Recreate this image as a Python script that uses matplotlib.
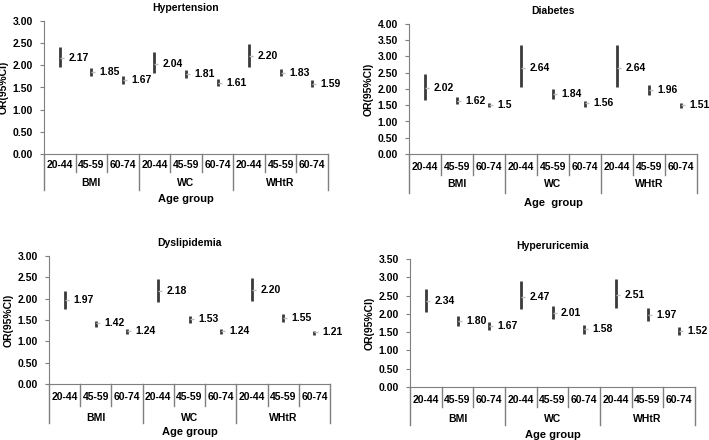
import matplotlib
matplotlib.use("Agg")
import matplotlib.pyplot as plt

plt.rcParams['font.family'] = ['Liberation Sans', 'DejaVu Sans']
plt.rcParams['font.weight'] = 'bold'

ages = ['20-44', '45-59', '60-74']
groups = ['BMI', 'WC', 'WHtR']

titles = ['Hypertension', 'Diabetes', 'Dyslipidemia', 'Hyperuricemia']
xlabels = ['Age group', 'Age  group', 'Age group', 'Age group']
ymax = [3.0, 4.0, 3.0, 3.5]

or_labels = [
    ['2.17', '1.85', '1.67', '2.04', '1.81', '1.61', '2.20', '1.83', '1.59'],
    ['2.02', '1.62', '1.5', '2.64', '1.84', '1.56', '2.64', '1.96', '1.51'],
    ['1.97', '1.42', '1.24', '2.18', '1.53', '1.24', '2.20', '1.55', '1.21'],
    ['2.34', '1.80', '1.67', '2.47', '2.01', '1.58', '2.51', '1.97', '1.52'],
]
ci_low = [
    [1.97, 1.76, 1.59, 1.83, 1.71, 1.53, 1.97, 1.75, 1.51],
    [1.67, 1.53, 1.46, 2.06, 1.69, 1.46, 2.06, 1.82, 1.43],
    [1.75, 1.34, 1.17, 1.92, 1.42, 1.17, 1.94, 1.46, 1.15],
    [2.06, 1.66, 1.55, 2.12, 1.85, 1.46, 2.15, 1.80, 1.42],
]
ci_high = [
    [2.42, 1.93, 1.76, 2.31, 1.90, 1.69, 2.47, 1.92, 1.67],
    [2.47, 1.74, 1.58, 3.36, 1.99, 1.63, 3.36, 2.13, 1.58],
    [2.19, 1.48, 1.29, 2.45, 1.60, 1.29, 2.49, 1.64, 1.25],
    [2.68, 1.95, 1.78, 2.90, 2.21, 1.69, 2.95, 2.17, 1.63],
]

# axes boxes in pixels: left, right, top, bottom
boxes = [(44, 328, 21, 154), (409, 697, 24, 154),
         (49, 330, 256, 384), (410, 695, 259, 387)]
# category table offsets below the axis, px:
# age label, age separators, group label, group separators, axis title
table = [(11, 18, 29, 36, 45), (13, 21, 30, 39, 49),
         (13, 22, 34, 39, 48), (13, 20, 32, 38, 48)]
W, H = 709, 440

fig = plt.figure(figsize=(W / 100, H / 100), dpi=100)
line_c = '#3a3a3a'
axis_c = '#7f7f7f'
fs = 7.5

for k in range(4):
    l, r, t, b = boxes[k]
    ax = fig.add_axes([l / W, 1 - b / H, (r - l) / W, (b - t) / H])
    hpx = b - t
    ors = [float(v) for v in or_labels[k]]
    xs = list(range(9))
    ax.vlines(xs, ci_low[k], ci_high[k], color=line_c, lw=2)
    ax.plot(xs, ors, ls='none', marker=1, ms=3, mew=1, color='#bdbdbd')
    for x, v, s in zip(xs, ors, or_labels[k]):
        ax.text(x + 0.27, v, s, fontsize=fs, fontweight='bold',
                va='center', ha='left')
    ax.set_xlim(-0.5, 8.5)
    ax.set_ylim(0, ymax[k])
    n = int(ymax[k] / 0.5) + 1
    ax.set_yticks([i * 0.5 for i in range(n)])
    ax.set_yticklabels(['%.2f' % (i * 0.5) for i in range(n)],
                       fontsize=fs, fontweight='bold')
    ax.tick_params(axis='y', length=3, color=axis_c, pad=5)
    ax.set_xticks([])
    for s in ['top', 'right']:
        ax.spines[s].set_visible(False)
    ax.spines['left'].set_color(axis_c)
    ax.spines['bottom'].set_color(axis_c)
    ax.set_ylabel('OR(95%CI)', fontsize=fs, fontweight='bold', labelpad=3)
    ax.set_title(titles[k], fontsize=fs, fontweight='bold', pad=7)

    a_y, a_line, g_y, g_line, t_y = table[k]
    f = lambda px: -px / hpx
    trans = ax.get_xaxis_transform()
    for i in range(10):
        bottom = g_line if i % 3 == 0 else a_line
        ax.plot([i - 0.5, i - 0.5], [0, f(bottom)], color=axis_c, lw=1,
                transform=trans, clip_on=False)
    for i in range(9):
        ax.text(i, f(a_y), ages[i % 3], fontsize=fs, fontweight='bold',
                ha='center', va='center', transform=trans)
    for g in range(3):
        ax.text(g * 3 + 1, f(g_y), groups[g], fontsize=fs, fontweight='bold',
                ha='center', va='center', transform=trans)
    ax.text(4, f(t_y), xlabels[k], fontsize=fs + 0.5, fontweight='bold',
            ha='center', va='center', transform=trans)

fig.savefig('out.png', dpi=100)
